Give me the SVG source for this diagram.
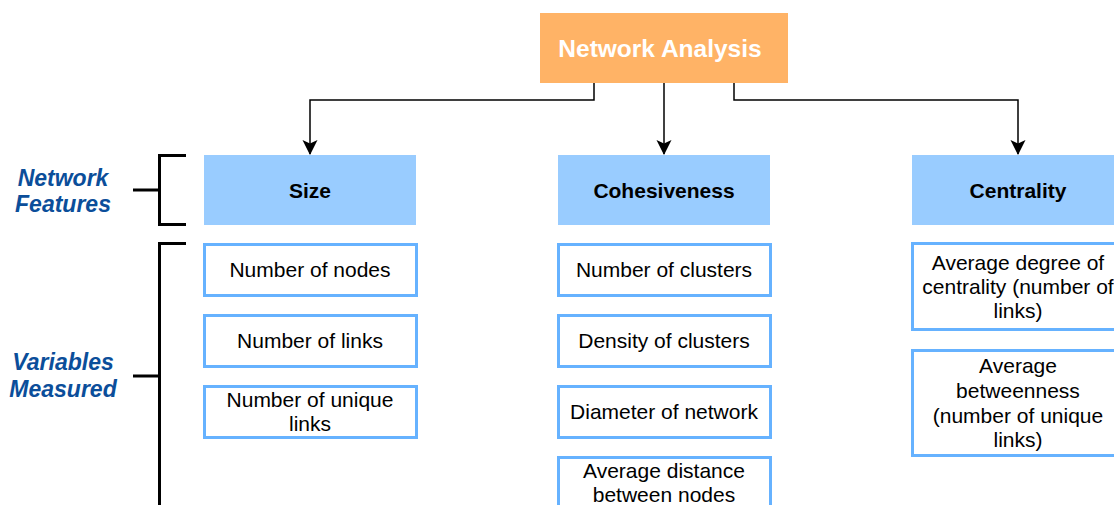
<svg xmlns="http://www.w3.org/2000/svg" width="1114" height="505" viewBox="0 0 1114 505">
<style>
.t{font-family:"Liberation Sans",Arial,sans-serif;font-size:21px;fill:#000;text-anchor:middle}
.h{font-family:"Liberation Sans",Arial,sans-serif;font-size:21px;font-weight:bold;fill:#000;text-anchor:middle}
.lbl{font-family:"Liberation Sans",Arial,sans-serif;font-size:23px;font-weight:bold;font-style:italic;fill:#0B4E9A;text-anchor:middle}
.hdr{fill:#99CCFF}
.box{fill:#fff;stroke:#66B2FF;stroke-width:3}
.br{fill:none;stroke:#000;stroke-width:3}
.cn{fill:none;stroke:#000;stroke-width:1.5}
</style>
<defs>
<marker id="arr" markerWidth="16" markerHeight="16" refX="14" refY="7.5" orient="auto" markerUnits="userSpaceOnUse">
<path d="M0,0 L15,7.5 L0,15 L3.5,7.5 Z" fill="#000"/>
</marker>
</defs>
<rect width="1114" height="505" fill="#fff"/>
<g id="connectors">
<path class="cn" d="M594,83 V100 H310 V154" marker-end="url(#arr)"/>
<path class="cn" d="M664,83 V154" marker-end="url(#arr)"/>
<path class="cn" d="M734,83 V100 H1018 V154" marker-end="url(#arr)"/>
</g>
<g id="root">
<rect x="540" y="13" width="248" height="70" fill="#FFB366"/>
<text x="660" y="57" style="font-family:'Liberation Sans',Arial,sans-serif;font-size:24.5px;font-weight:bold;fill:#fff;text-anchor:middle">Network Analysis</text>
</g>
<g id="features-label">
<path class="br" d="M186,155.5 H159.5 V224.5 H186 M133,190 H159.5"/>
<text class="lbl" x="63" y="186">Network</text>
<text class="lbl" x="63" y="212">Features</text>
</g>
<g id="variables-label">
<path class="br" d="M186,243.5 H159.5 V505 M133,376 H159.5"/>
<text class="lbl" x="63" y="370">Variables</text>
<text class="lbl" x="63" y="397">Measured</text>
</g>
<g id="size">
<rect class="hdr" x="204" y="155" width="212" height="70"/>
<text class="h" x="310" y="198">Size</text>
</g>
<g id="cohesiveness">
<rect class="hdr" x="558" y="155" width="212" height="70"/>
<text class="h" x="664" y="198">Cohesiveness</text>
</g>
<g id="centrality">
<rect class="hdr" x="912" y="155" width="212" height="70"/>
<text class="h" x="1018" y="198">Centrality</text>
</g>
<g id="size-nodes">
<rect class="box" x="204.5" y="244.5" width="212" height="51"/>
<text class="t" x="310" y="277">Number of nodes</text>
</g>
<g id="size-links">
<rect class="box" x="204.5" y="315.5" width="212" height="51"/>
<text class="t" x="310" y="348">Number of links</text>
</g>
<g id="size-unique">
<rect class="box" x="204.5" y="386.5" width="212" height="51"/>
<text class="t" x="310" y="407">Number of unique</text>
<text class="t" x="310" y="431">links</text>
</g>
<g id="coh-clusters">
<rect class="box" x="558.5" y="244.5" width="212" height="51"/>
<text class="t" x="664" y="277">Number of clusters</text>
</g>
<g id="coh-density">
<rect class="box" x="558.5" y="315.5" width="212" height="51"/>
<text class="t" x="664" y="348">Density of clusters</text>
</g>
<g id="coh-diameter">
<rect class="box" x="558.5" y="386.5" width="212" height="51"/>
<text class="t" x="664" y="419">Diameter of network</text>
</g>
<g id="coh-distance">
<rect class="box" x="558.5" y="457.5" width="212" height="51"/>
<text class="t" x="664" y="478">Average distance</text>
<text class="t" x="664" y="502">between nodes</text>
</g>
<g id="cen-degree">
<rect class="box" x="912.5" y="243.5" width="212" height="86"/>
<text class="t" x="1018" y="270">Average degree of</text>
<text class="t" x="1018" y="294">centrality (number of</text>
<text class="t" x="1018" y="318">links)</text>
</g>
<g id="cen-betweenness">
<rect class="box" x="912.5" y="350.5" width="212" height="105"/>
<text class="t" x="1018" y="373">Average</text>
<text class="t" x="1018" y="398">betweenness</text>
<text class="t" x="1018" y="423">(number of unique</text>
<text class="t" x="1018" y="447">links)</text>
</g>
</svg>
